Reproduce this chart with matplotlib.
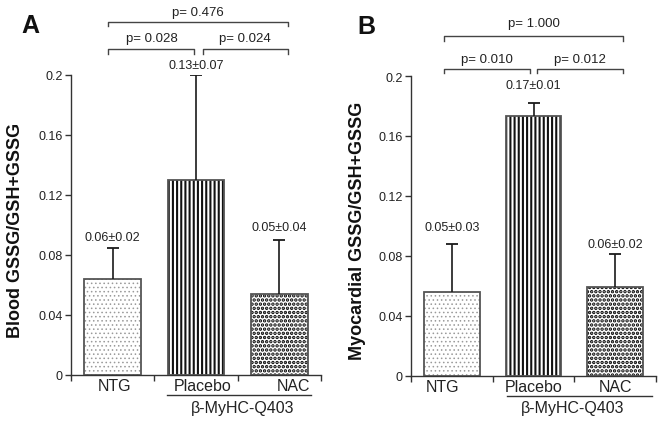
import numpy as np
import matplotlib
matplotlib.use("Agg")
import matplotlib.pyplot as plt
import matplotlib.transforms as mtransforms

plt.rcParams["font.family"] = ["Liberation Sans", "DejaVu Sans"]

# Data
groups = ["NTG", "Placebo", "NAC"]
group_label = "\u03b2-MyHC-Q403"
blood_mean = [0.064, 0.130, 0.054]
blood_err = [0.021, 0.070, 0.036]
blood_text = ["0.06\u00b10.02", "0.13\u00b10.07", "0.05\u00b10.04"]
blood_p = ["p= 0.028", "p= 0.024", "p= 0.476"]
myo_mean = [0.056, 0.173, 0.059]
myo_err = [0.032, 0.009, 0.022]
myo_text = ["0.05\u00b10.03", "0.17\u00b10.01", "0.06\u00b10.02"]
myo_p = ["p= 0.010", "p= 0.012", "p= 1.000"]
yticks = [0, 0.04, 0.08, 0.12, 0.16, 0.2]
ytick_labels = ["0", "0.04", "0.08", "0.12", "0.16", "0.2"]

hatches = ["....", "||||", "...."]
hatch_colors = ["#9a9a9a", "#111111", "#000000"]
hatch_lws = [0.6, 1.5, 1.7]
edge = "#555555"
axis_col = "#333333"
text_col = "#222222"

W, H = 666, 427
fig = plt.figure(figsize=(W / 100, H / 100), dpi=100)


def panel(rect, means, errs, texts, pvals, ylabel, letter, letter_xy,
          ylabel_x, text_off, brackets, cat_dx, group_span, group_x):
    ax = fig.add_axes(rect)
    x = np.arange(len(groups))
    for i in range(len(groups)):
        with plt.rc_context({"hatch.linewidth": hatch_lws[i]}):
            b = ax.bar(x[i], means[i], width=0.68, color="white",
                       hatch=hatches[i], edgecolor=hatch_colors[i],
                       linewidth=0, zorder=2)
            for p in b:
                if hasattr(p, "set_hatch_linewidth"):
                    p.set_hatch_linewidth(hatch_lws[i])
    ax.bar(x, means, width=0.68, fill=False, edgecolor=edge,
           linewidth=1.3, zorder=3)
    tops = np.array(means) + np.array(errs)
    ax.vlines(x, means, tops, color="#1a1a1a", linewidth=1.2, zorder=4)
    ax.plot(x, tops, linestyle="none", marker="_", markersize=8,
            markeredgewidth=1.3, color="#1a1a1a", zorder=4)
    for i in range(len(groups)):
        ax.annotate(texts[i], (x[i], tops[i]), xytext=(0, text_off[i]),
                    textcoords="offset pixels", ha="center", va="center",
                    fontsize=9, color=text_col)

    ax.set_xlim(-0.5, 2.5)
    ax.set_ylim(0, 0.2)
    ax.set_yticks(yticks)
    ax.set_yticklabels(ytick_labels)
    ax.set_xticks([-0.5, 0.5, 1.5, 2.5])
    ax.set_xticklabels([])
    for s in ["top", "right"]:
        ax.spines[s].set_visible(False)
    for s in ["left", "bottom"]:
        ax.spines[s].set_color(axis_col)
        ax.spines[s].set_linewidth(1.0)
    ax.tick_params(axis="both", direction="out", length=4, width=1.0,
                   color=axis_col, labelsize=9, labelcolor=text_col, pad=2)

    trans = mtransforms.blended_transform_factory(ax.transData, ax.transAxes)
    for i, g in enumerate(groups):
        ax.text(i + cat_dx[i], -0.036, g, transform=trans, ha="center",
                va="center", fontsize=11.5, color=text_col)
    ax.plot(group_span, [-0.067, -0.067], transform=trans, color=axis_col,
            linewidth=1.0, clip_on=False)
    ax.text(group_x, -0.107, group_label, transform=trans, ha="center",
            va="center", fontsize=11.5, color=text_col)

    # significance brackets
    for (x0, x1, yb, yt), p in zip(brackets, pvals):
        ax.plot([x0, x0, x1, x1], [yb - 0.003, yb, yb, yb - 0.003],
                color="#444444", linewidth=1.0, clip_on=False)
        ax.text((x0 + x1) / 2, yt, p, ha="center", va="center",
                fontsize=9.5, color=text_col, clip_on=False)

    fig.text(ylabel_x, rect[1] + rect[3] * 0.5 - 0.01, ylabel,
             rotation=90, ha="center", va="center", fontsize=13,
             fontweight="bold", color="#111111")
    fig.text(letter_xy[0], letter_xy[1], letter, ha="center", va="center",
             fontsize=18, fontweight="bold", color="#111111")
    return ax


panel([71 / W, 51 / H, 250 / W, 300 / H], blood_mean, blood_err, blood_text,
      blood_p, "Blood GSSG/GSH+GSSG", "A", (30 / W, 1 - 26 / H), 16 / W,
      [10, 10, 13],
      [(-0.05, 0.98, 0.2173, 0.2247), (1.08, 2.10, 0.2173, 0.2247),
       (-0.05, 2.10, 0.2355, 0.2420)],
      [0.02, 0.08, 0.17], [0.65, 2.38], 1.56)

panel([411 / W, 50.3 / H, 245 / W, 299.7 / H], myo_mean, myo_err, myo_text,
      myo_p, "Myocardial GSSG/GSH+GSSG", "B", (366 / W, 1 - 27 / H), 357 / W,
      [17, 18, 10],
      [(-0.10, 0.96, 0.2047, 0.2114), (1.04, 2.10, 0.2047, 0.2114),
       (-0.10, 2.10, 0.2266, 0.2352)],
      [-0.11, 0.0, 0.01], [0.68, 2.45], 1.48)

fig.savefig("out.png", dpi=100)
